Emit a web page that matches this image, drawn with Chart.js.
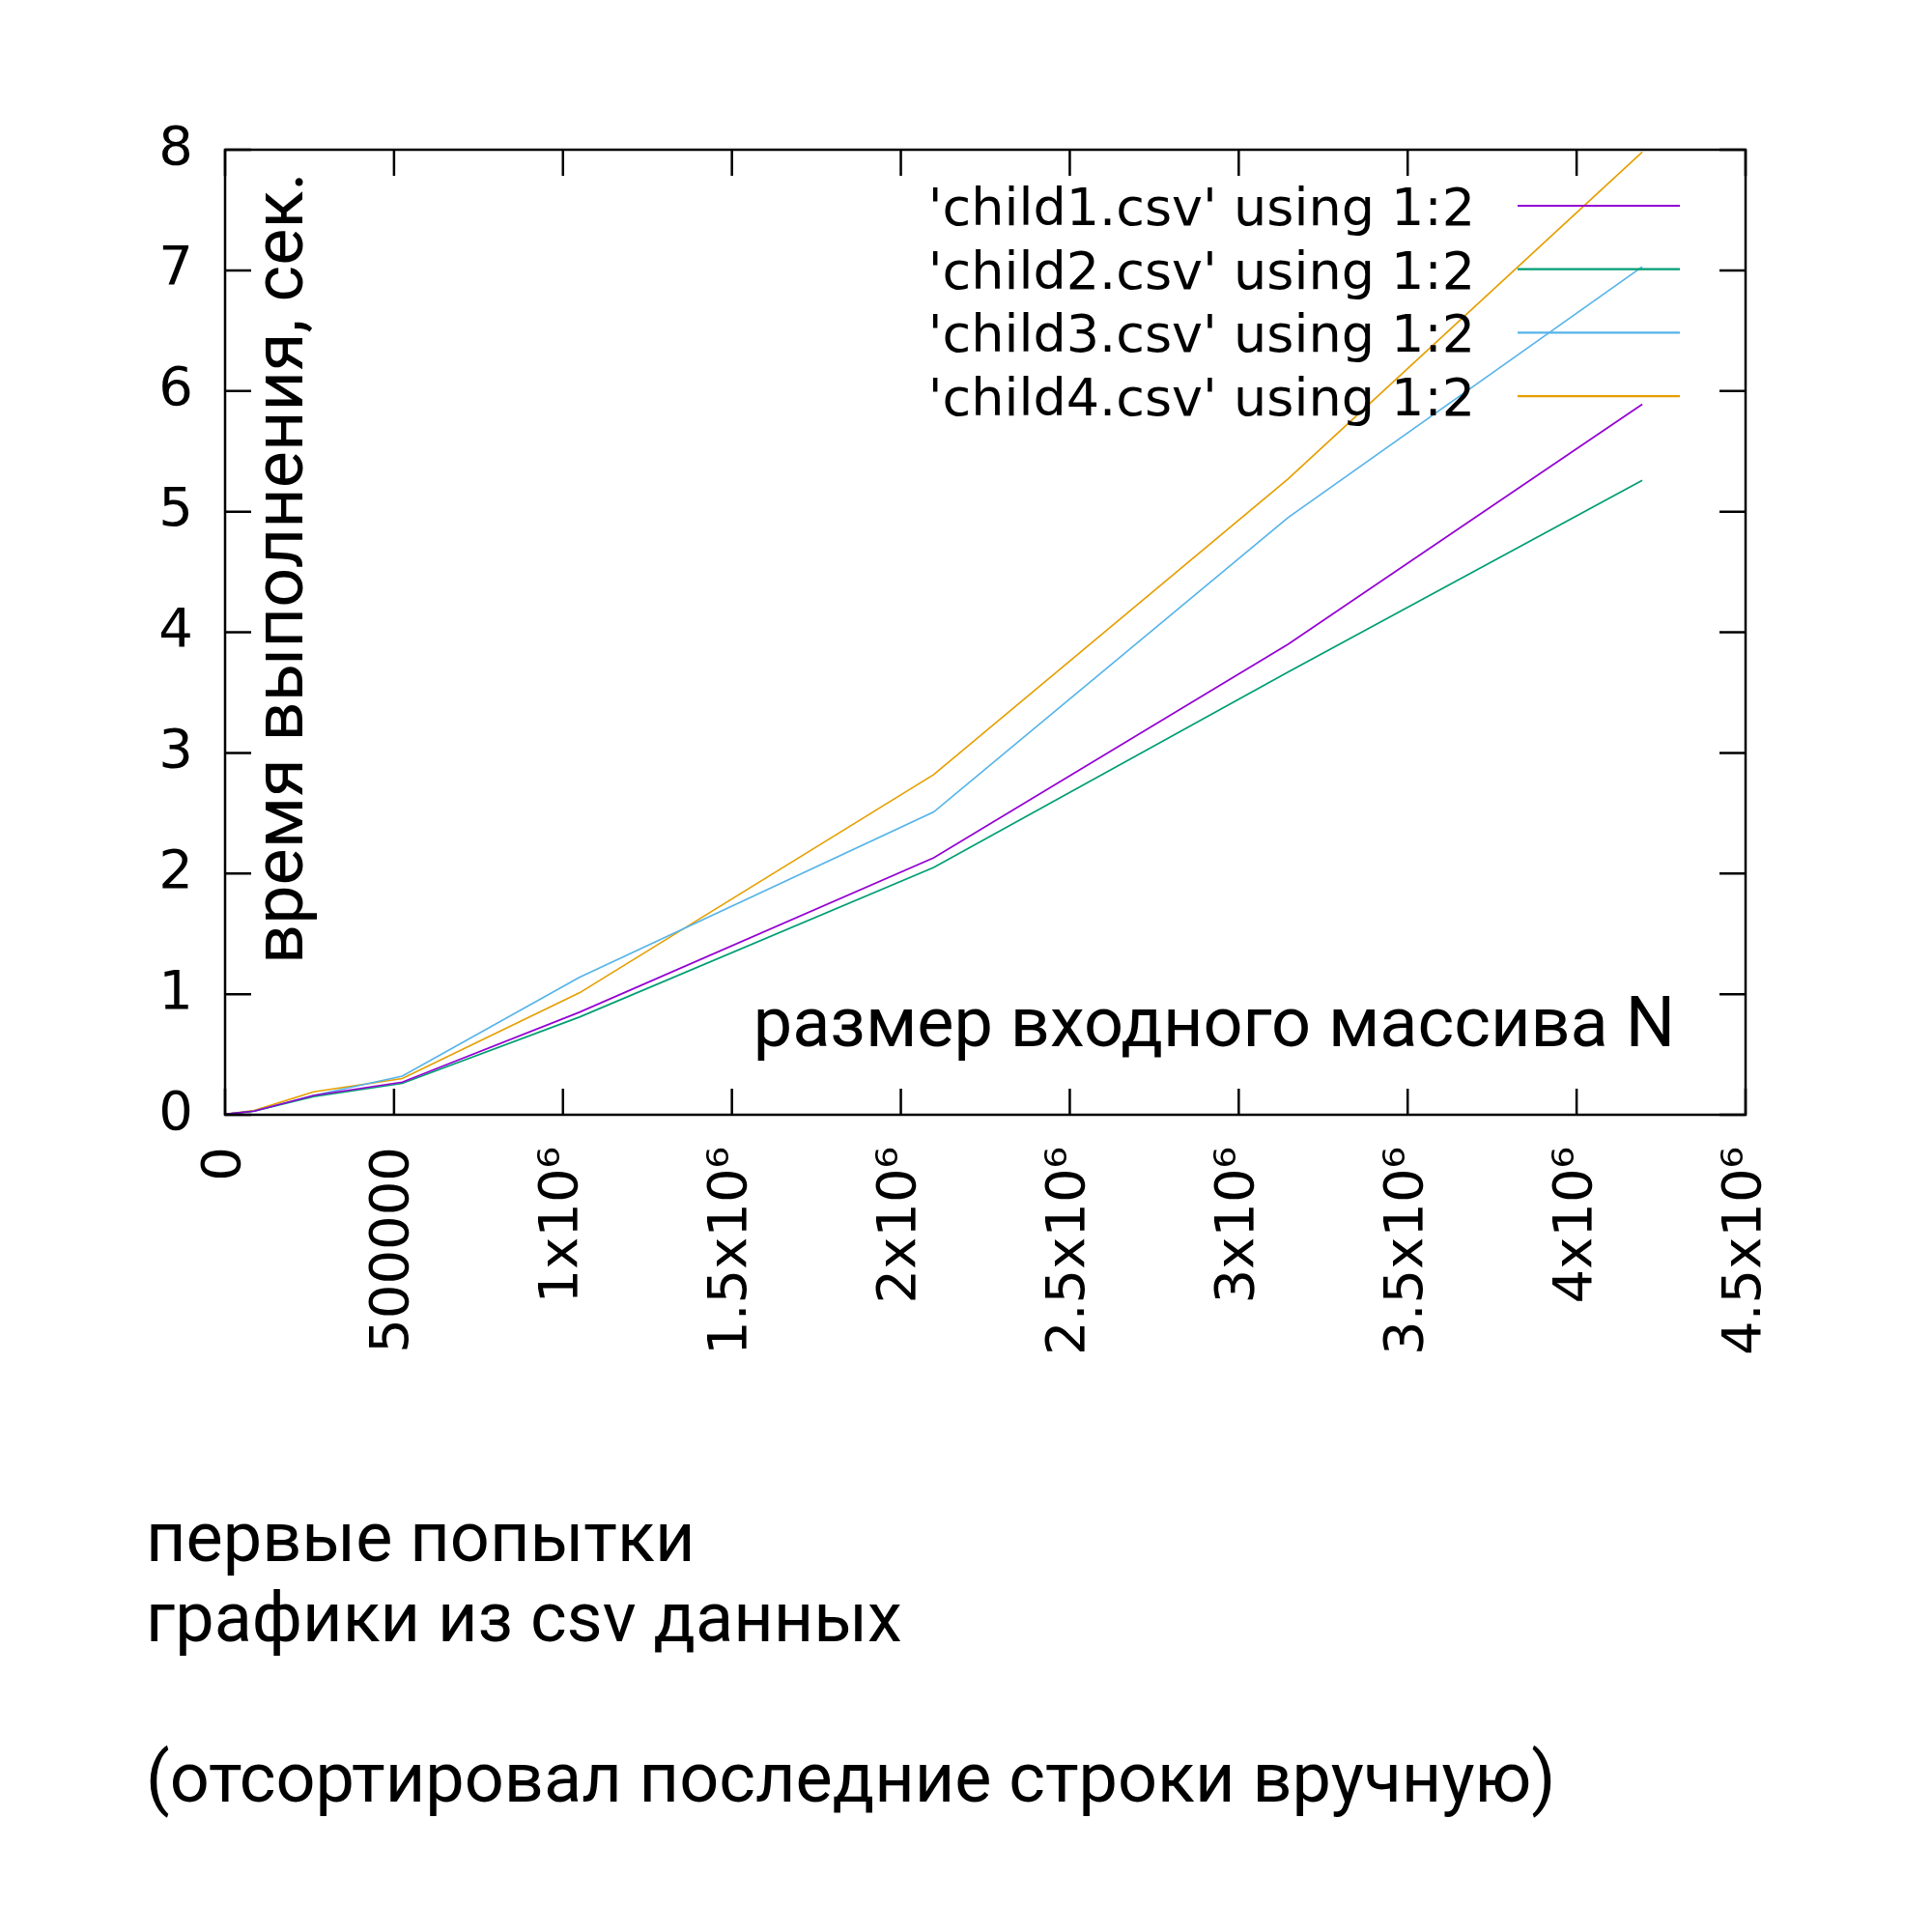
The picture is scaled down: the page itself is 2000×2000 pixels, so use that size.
<!DOCTYPE html>
<html>
<head>
<meta charset="utf-8">
<script src="https://cdn.jsdelivr.net/npm/chart.js@4.4.1/dist/chart.umd.min.js"></script>
<style>
  html, body { margin: 0; padding: 0; background: #fff; }
  #wrap { position: relative; width: 2000px; height: 2000px; }
  .caption { position: absolute; left: 151px; font-family: Roboto, sans-serif; font-size: 72px; line-height: 72px; color: #000; white-space: nowrap; }
</style>
</head>
<body>
<div id="wrap">
  <canvas id="myChart" width="2000" height="2000"></canvas>
  <div class="caption" style="top:1556px">первые попытки</div>
  <div class="caption" style="top:1639px">графики из csv данных</div>
  <div class="caption" style="top:1805px">(отсортировал последние строки вручную)</div>
</div>
<script>
"use strict"

// размер входного массива N
const sizes = [1000, 86000, 262144, 524288, 1048576, 2097152, 3145728, 4194304]
// время выполнения, сек.
const child1 = [0.005, 0.03, 0.16, 0.27, 0.85, 2.13, 3.90, 5.89]
const child2 = [0.005, 0.03, 0.15, 0.26, 0.81, 2.05, 3.67, 5.26]
const child3 = [0.005, 0.03, 0.16, 0.32, 1.14, 2.51, 4.95, 7.03]
const child4 = [0.005, 0.035, 0.19, 0.30, 1.01, 2.82, 5.27, 7.98]

const seriesNames = ["'child1.csv' using 1:2", "'child2.csv' using 1:2", "'child3.csv' using 1:2", "'child4.csv' using 1:2"]
const seriesColors = ['#9400d3', '#009e73', '#56b4e9', '#e69f00']

const xTickLabels = ['0', '500000', '1x10⁶', '1.5x10⁶', '2x10⁶', '2.5x10⁶', '3x10⁶', '3.5x10⁶', '4x10⁶', '4.5x10⁶']
const yTickLabels = ['0', '1', '2', '3', '4', '5', '6', '7', '8']

const xTitle = 'размер входного массива N'
const yTitle = 'время выполнения, сек.'

const TICK_FONT = { family: 'DejaVu Sans', size: 56 }
const TICK_LEN = 27

function toPoints(ys) {
    return sizes.map((x, i) => ({ x: x, y: ys[i] }))
}

// gnuplot-like frame: border on all sides, ticks pointing inwards
const framePlugin = {
    id: 'frame',
    afterDatasetsDraw(chart) {
        const { ctx, chartArea: a, scales } = chart
        ctx.save()
        ctx.strokeStyle = '#000'
        ctx.lineWidth = 2.5
        ctx.beginPath()
        scales.x.ticks.forEach(t => {
            const px = scales.x.getPixelForValue(t.value)
            ctx.moveTo(px, a.bottom); ctx.lineTo(px, a.bottom - TICK_LEN)
            ctx.moveTo(px, a.top); ctx.lineTo(px, a.top + TICK_LEN)
        })
        scales.y.ticks.forEach(t => {
            const py = scales.y.getPixelForValue(t.value)
            ctx.moveTo(a.left, py); ctx.lineTo(a.left + TICK_LEN, py)
            ctx.moveTo(a.right, py); ctx.lineTo(a.right - TICK_LEN, py)
        })
        ctx.stroke()
        ctx.strokeRect(a.left, a.top, a.right - a.left, a.bottom - a.top)
        ctx.restore()
    }
}

// axis titles sit inside the plot, like in the original picture
const titlesPlugin = {
    id: 'titles',
    afterDraw(chart) {
        const { ctx, chartArea: a } = chart
        ctx.save()
        ctx.fillStyle = '#000'
        ctx.font = '72px Roboto'
        ctx.textBaseline = 'alphabetic'
        ctx.textAlign = 'right'
        ctx.fillText(xTitle, a.right - 73, a.bottom - 71)

        ctx.translate(a.left + 80, a.bottom - 156)
        ctx.rotate(-Math.PI / 2)
        ctx.textAlign = 'left'
        ctx.fillText(yTitle, 0, 0)
        ctx.restore()
    }
}

// key in the top right corner: text then a short line sample
const keyPlugin = {
    id: 'key',
    afterDraw(chart) {
        const { ctx, chartArea: a } = chart
        ctx.save()
        ctx.font = '54px "DejaVu Sans"'
        ctx.textAlign = 'right'
        ctx.textBaseline = 'middle'
        chart.data.datasets.forEach((ds, i) => {
            const y = a.top + 58 + i * 65.7
            ctx.fillStyle = '#000'
            ctx.fillText(ds.label, a.right - 280, y + 6)
            ctx.strokeStyle = ds.borderColor
            ctx.lineWidth = 2.2
            ctx.beginPath()
            ctx.moveTo(a.right - 236, y)
            ctx.lineTo(a.right - 68, y)
            ctx.stroke()
        })
        ctx.restore()
    }
}

const allSeries = [child1, child2, child3, child4]

const ctx = document.getElementById('myChart').getContext('2d')
const chart = new Chart(ctx, {
    type: 'scatter',
    data: {
        datasets: allSeries.map((ys, i) => ({
            label: seriesNames[i],
            data: toPoints(ys),
            borderColor: seriesColors[i],
            backgroundColor: seriesColors[i],
            borderWidth: 1.7,
            showLine: true,
            pointRadius: 0,
            tension: 0,
        }))
    },
    options: {
        responsive: false,
        devicePixelRatio: 1,
        animation: false,
        layout: { padding: { top: 155, right: 193, left: 0, bottom: 0 } },
        plugins: {
            legend: { display: false },
            tooltip: { enabled: false },
        },
        scales: {
            x: {
                type: 'linear',
                min: 0,
                max: 4500000,
                grid: { display: false, drawTicks: false },
                border: { display: false },
                ticks: {
                    stepSize: 500000,
                    autoSkip: false,
                    minRotation: 90,
                    maxRotation: 90,
                    padding: 33,
                    color: '#000',
                    font: TICK_FONT,
                    callback: (v, i) => xTickLabels[i],
                },
                afterFit: s => { s.height = 846 },
            },
            y: {
                min: 0,
                max: 8,
                grid: { display: false, drawTicks: false },
                border: { display: false },
                ticks: {
                    stepSize: 1,
                    padding: 33,
                    color: '#000',
                    font: TICK_FONT,
                    callback: (v, i) => yTickLabels[i],
                },
                afterFit: s => { s.width = 233 },
            },
        },
    },
    plugins: [framePlugin, titlesPlugin, keyPlugin],
})
</script>
</body>
</html>
